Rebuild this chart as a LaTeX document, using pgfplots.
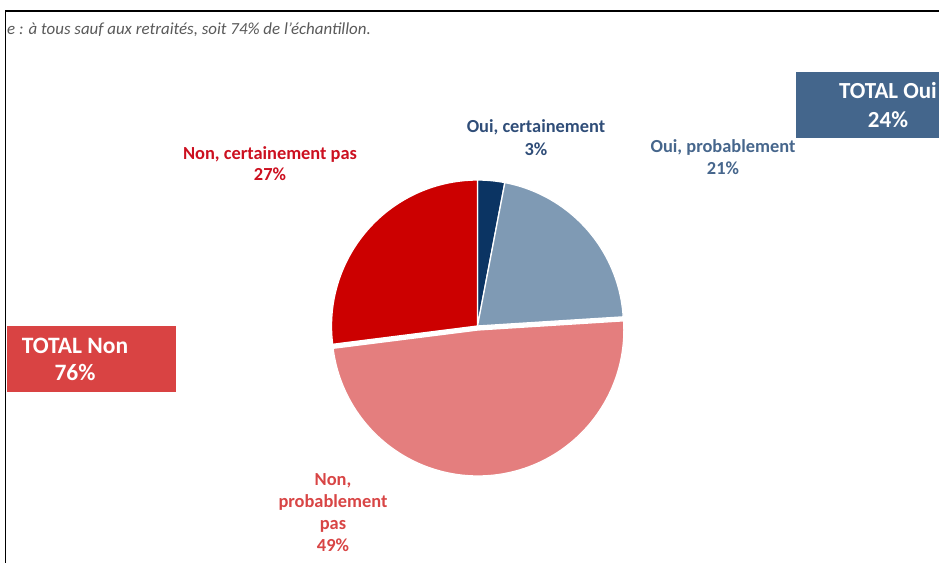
\documentclass[border=0pt]{standalone}
\usepackage{fontspec}
\setmainfont{Carlito}
\usepackage{pgfplots}
\pgfplotsset{compat=1.18}
\definecolor{cOuiCert}{HTML}{0B3463}
\definecolor{cOuiProb}{HTML}{7F9AB4}
\definecolor{cNonProb}{HTML}{E47E7E}
\definecolor{cNonCert}{HTML}{CC0000}
\definecolor{tOuiCert}{HTML}{2F4D78}
\definecolor{tOuiProb}{HTML}{46668C}
\definecolor{tNonCert}{HTML}{CC1020}
\definecolor{tNonProb}{HTML}{D84545}
\definecolor{boxOui}{HTML}{44668C}
\definecolor{boxNon}{HTML}{D94343}
\definecolor{noteGrey}{HTML}{595959}
% shares (%) in clockwise order from 12 o'clock
% Oui, certainement 3 ; Oui, probablement 21 ; Non, probablement pas 49 ; Non, certainement pas 27
\begin{document}
\begin{tikzpicture}
\clip (0,0) rectangle (939pt,562pt);
\begin{axis}[at={(0,0)}, anchor=south west, width=939pt, height=562pt,
  scale only axis, xmin=0, xmax=939, ymin=0, ymax=562, y dir=reverse,
  hide axis, clip=false]
% Oui, certainement : 3
\addplot[fill=cOuiCert, draw=white, line width=1.3pt, domain={90-3.6*3}:{90}, samples=20]
  ({477.5+146*cos(x)},{326-146*sin(x)}) -- (axis cs:477.5,326) -- cycle;
% Oui, probablement : 21
\addplot[fill=cOuiProb, draw=white, line width=1.3pt, domain={90-3.6*(3+21)}:{90-3.6*3}, samples=60]
  ({477.5+146*cos(x)},{326-146*sin(x)}) -- (axis cs:477.5,326) -- cycle;
% Non, certainement pas : 27
\addplot[fill=cNonCert, draw=white, line width=1.3pt, domain={90-3.6*(3+21+49+27)}:{90-3.6*(3+21+49)}, samples=60]
  ({477.5+146*cos(x)},{326-146*sin(x)}) -- (axis cs:477.5,326) -- cycle;
% Non, probablement pas : 49 (slightly exploded)
\addplot[fill=cNonProb, draw=white, line width=1.3pt, domain={90-3.6*(3+21+49)}:{90-3.6*(3+21)}, samples=100]
  ({477.9+146*cos(x)},{330-146*sin(x)}) -- (axis cs:477.9,330) -- cycle;

% frame
\draw[black, line width=1.8pt] (axis cs:5.5,600) -- (axis cs:5.5,11) -- (axis cs:960,11);
% note
\node[anchor=west, inner sep=0pt, text=noteGrey, font=\fontsize{16.9}{19}\selectfont\itshape]
  at (axis cs:7,30) {e : à tous sauf aux retraités, soit 74\% de l’échantillon.};

% total boxes
\fill[boxOui] (axis cs:796,72) rectangle (axis cs:960,138);
\node[align=center, inner sep=0pt, text=white, font=\fontsize{23}{28.5}\selectfont\bfseries]
  at (axis cs:888,105) {TOTAL Oui\\24\%};
\fill[boxNon] (axis cs:7,326) rectangle (axis cs:176,392);
\node[align=center, inner sep=0pt, text=white, font=\fontsize{23.5}{27}\selectfont\bfseries]
  at (axis cs:75,359) {TOTAL Non\\76\%};

% slice labels
\node[align=center, inner sep=0pt, text=tOuiCert, font=\fontsize{18.4}{22.5}\selectfont\bfseries]
  at (axis cs:536,137.5) {Oui, certainement\\3\%};
\node[align=center, inner sep=0pt, text=tOuiProb, font=\fontsize{18.4}{22}\selectfont\bfseries]
  at (axis cs:723,157) {Oui, probablement\\21\%};
\node[align=center, inner sep=0pt, text=tNonCert, font=\fontsize{18.4}{21}\selectfont\bfseries]
  at (axis cs:270,163.5) {Non, certainement pas\\27\%};
\node[align=center, inner sep=0pt, text=tNonProb, font=\fontsize{18.4}{22}\selectfont\bfseries]
  at (axis cs:333,513) {Non,\\probablement\\pas\\49\%};
\end{axis}
\end{tikzpicture}
\end{document}
